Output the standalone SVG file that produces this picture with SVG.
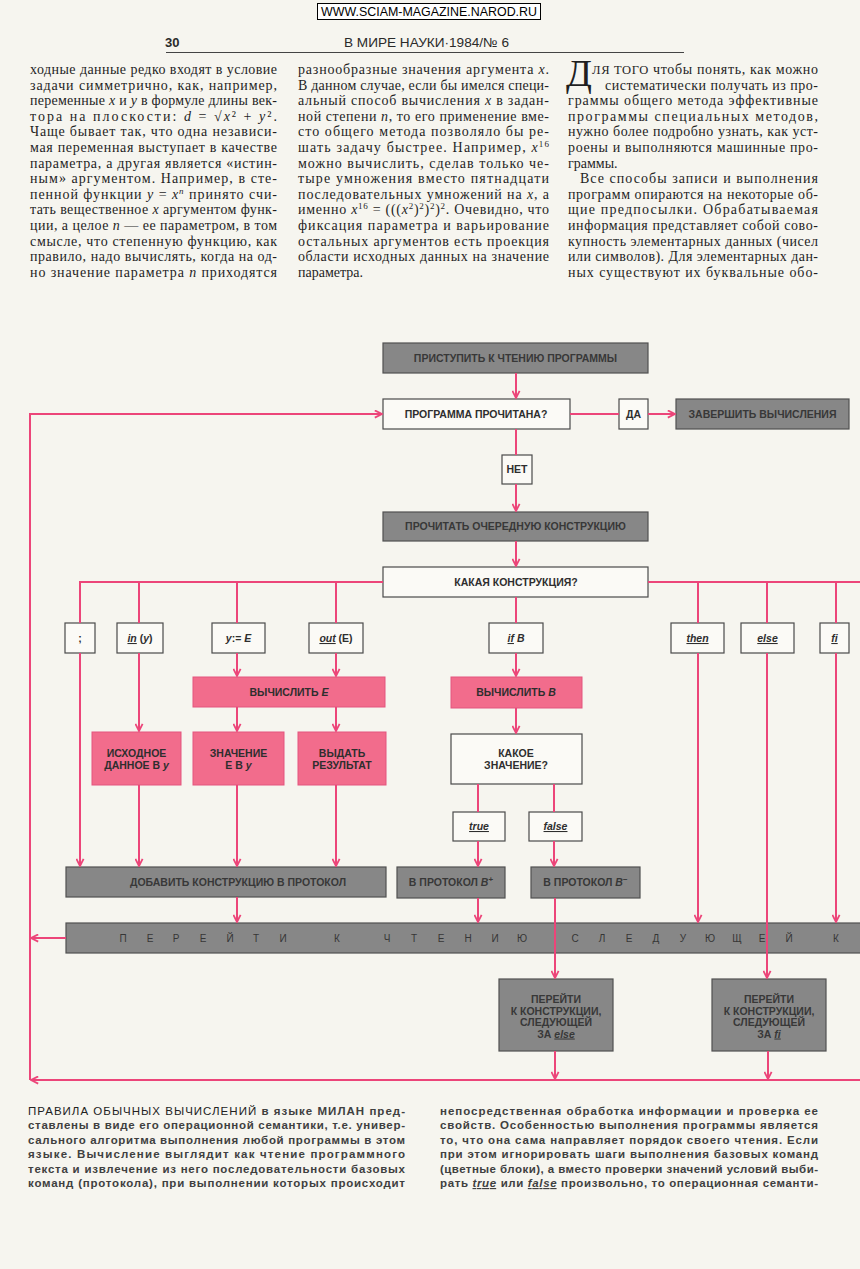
<svg xmlns="http://www.w3.org/2000/svg" width="860" height="1269" viewBox="0 0 860 1269">
<defs>
<style>
.sr{font-family:"Liberation Serif","Times New Roman",serif;font-size:14px;fill:#1f1f1f}
.cap{font-family:"Liberation Sans",Arial,sans-serif;font-size:11.5px;fill:#404040;font-weight:bold}
.bx{font-family:"Liberation Sans",Arial,sans-serif;font-size:10.5px;fill:#2e2e2e;text-anchor:middle;font-weight:bold}
.dk{fill:#383838}
.it{font-style:italic}
.ul{text-decoration:underline}
.w{fill:#fbfaf6;stroke:#4a4a4a;stroke-width:1.2}
.g{fill:#878787;stroke:#505050;stroke-width:1.2}
.p{fill:#f26c8c;stroke:#e3557e;stroke-width:1}
.c{fill:none;stroke:#ec4579;stroke-width:2}
.ar{marker-end:url(#a)}
.lt{font-family:"Liberation Sans",Arial,sans-serif;font-size:10px;fill:#363636;text-anchor:middle}
</style>
<marker id="a" viewBox="0 0 10 10" refX="9" refY="5" markerWidth="9" markerHeight="9" markerUnits="userSpaceOnUse" orient="auto"><path d="M1,1 L9,5 L1,9" fill="none" stroke="#ec4579" stroke-width="2"/></marker>
</defs>
<rect x="0" y="0" width="860" height="1269" fill="#f6f5ef"/>

<g id="watermark">
<rect x="317.5" y="3.5" width="223" height="16" fill="#ffffff" stroke="#000" stroke-width="1"/>
<text x="429" y="16" font-family="Liberation Sans,Arial,sans-serif" font-size="13" fill="#000" text-anchor="middle" textLength="216" lengthAdjust="spacingAndGlyphs">WWW.SCIAM-MAGAZINE.NAROD.RU</text>
</g>

<g id="header">
<text x="165" y="47" font-family="Liberation Sans,Arial,sans-serif" font-size="13" font-weight="bold" fill="#2a2a2a">30</text>
<text x="344" y="47" font-family="Liberation Sans,Arial,sans-serif" font-size="13" fill="#2a2a2a" textLength="165" lengthAdjust="spacingAndGlyphs">В МИРЕ НАУКИ·1984/№ 6</text>
<line x1="166" y1="52.5" x2="684" y2="52.5" stroke="#444" stroke-width="1"/>
</g>

<g id="column1" class="sr">
<text x="30" y="74" textLength="247" lengthAdjust="spacing">ходные данные редко входят в условие</text>
<text x="30" y="89.6" textLength="247" lengthAdjust="spacing">задачи симметрично, как, например,</text>
<text x="30" y="105.2" textLength="247" lengthAdjust="spacing">переменные <tspan class="it">x</tspan> и <tspan class="it">y</tspan> в формуле длины век-</text>
<text x="30" y="120.8" textLength="247" lengthAdjust="spacing">тора на плоскости: <tspan class="it">d</tspan> = √<tspan class="it">x</tspan>² + <tspan class="it">y</tspan>².</text>
<text x="30" y="136.4" textLength="247" lengthAdjust="spacing">Чаще бывает так, что одна независи-</text>
<text x="30" y="152" textLength="247" lengthAdjust="spacing">мая переменная выступает в качестве</text>
<text x="30" y="167.6" textLength="247" lengthAdjust="spacing">параметра, а другая является «истин-</text>
<text x="30" y="183.2" textLength="247" lengthAdjust="spacing">ным» аргументом. Например, в сте-</text>
<text x="30" y="198.8" textLength="247" lengthAdjust="spacing">пенной функции <tspan class="it">y</tspan> = <tspan class="it">x</tspan><tspan class="it" font-size="9" dy="-5">n</tspan><tspan dy="5"> принято счи-</tspan></text>
<text x="30" y="214.4" textLength="247" lengthAdjust="spacing">тать вещественное <tspan class="it">x</tspan> аргументом функ-</text>
<text x="30" y="230" textLength="247" lengthAdjust="spacing">ции, а целое <tspan class="it">n</tspan> — ее параметром, в том</text>
<text x="30" y="245.6" textLength="247" lengthAdjust="spacing">смысле, что степенную функцию, как</text>
<text x="30" y="261.2" textLength="247" lengthAdjust="spacing">правило, надо вычислять, когда на од-</text>
<text x="30" y="276.8" textLength="247" lengthAdjust="spacing">но значение параметра <tspan class="it">n</tspan> приходятся</text>
</g>

<g id="column2" class="sr">
<text x="298" y="74" textLength="251" lengthAdjust="spacing">разнообразные значения аргумента <tspan class="it">x</tspan>.</text>
<text x="298" y="89.6" textLength="251" lengthAdjust="spacing">В данном случае, если бы имелся специ-</text>
<text x="298" y="105.2" textLength="251" lengthAdjust="spacing">альный способ вычисления <tspan class="it">x</tspan> в задан-</text>
<text x="298" y="120.8" textLength="251" lengthAdjust="spacing">ной степени <tspan class="it">n</tspan>, то его применение вме-</text>
<text x="298" y="136.4" textLength="251" lengthAdjust="spacing">сто общего метода позволяло бы ре-</text>
<text x="298" y="152" textLength="251" lengthAdjust="spacing">шать задачу быстрее. Например, <tspan class="it">x</tspan><tspan font-size="9" dy="-5">16</tspan></text>
<text x="298" y="167.6" textLength="251" lengthAdjust="spacing">можно вычислить, сделав только че-</text>
<text x="298" y="183.2" textLength="251" lengthAdjust="spacing">тыре умножения вместо пятнадцати</text>
<text x="298" y="198.8" textLength="251" lengthAdjust="spacing">последовательных умножений на <tspan class="it">x</tspan>, а</text>
<text x="298" y="214.4" textLength="251" lengthAdjust="spacing">именно <tspan class="it">x</tspan><tspan font-size="9" dy="-5">16</tspan><tspan dy="5"> = (((</tspan><tspan class="it">x</tspan><tspan font-size="9" dy="-5">2</tspan><tspan dy="5">)</tspan><tspan font-size="9" dy="-5">2</tspan><tspan dy="5">)</tspan><tspan font-size="9" dy="-5">2</tspan><tspan dy="5">)</tspan><tspan font-size="9" dy="-5">2</tspan><tspan dy="5">. Очевидно, что</tspan></text>
<text x="298" y="230" textLength="251" lengthAdjust="spacing">фиксация параметра и варьирование</text>
<text x="298" y="245.6" textLength="251" lengthAdjust="spacing">остальных аргументов есть проекция</text>
<text x="298" y="261.2" textLength="251" lengthAdjust="spacing">области исходных данных на значение</text>
<text x="298" y="276.8">параметра.</text>
</g>

<g id="column3" class="sr">
<text x="566" y="86" font-size="38">Д</text>
<text x="592" y="74" textLength="226" lengthAdjust="spacing"><tspan font-size="12.5">ЛЯ ТОГО</tspan> чтобы понять, как можно</text>
<text x="605" y="89.6" textLength="213" lengthAdjust="spacing">систематически получать из про-</text>
<text x="568" y="105.2" textLength="250" lengthAdjust="spacing">граммы общего метода эффективные</text>
<text x="568" y="120.8" textLength="250" lengthAdjust="spacing">программы специальных методов,</text>
<text x="568" y="136.4" textLength="250" lengthAdjust="spacing">нужно более подробно узнать, как уст-</text>
<text x="568" y="152" textLength="250" lengthAdjust="spacing">роены и выполняются машинные про-</text>
<text x="568" y="167.6">граммы.</text>
<text x="580" y="183.2" textLength="238" lengthAdjust="spacing">Все способы записи и выполнения</text>
<text x="568" y="198.8" textLength="250" lengthAdjust="spacing">программ опираются на некоторые об-</text>
<text x="568" y="214.4" textLength="250" lengthAdjust="spacing">щие предпосылки. Обрабатываемая</text>
<text x="568" y="230" textLength="250" lengthAdjust="spacing">информация представляет собой сово-</text>
<text x="568" y="245.6" textLength="250" lengthAdjust="spacing">купность элементарных данных (чисел</text>
<text x="568" y="261.2" textLength="250" lengthAdjust="spacing">или символов). Для элементарных дан-</text>
<text x="568" y="276.8" textLength="250" lengthAdjust="spacing">ных существуют их буквальные обо-</text>
</g>

<g id="n-start"><rect class="g" x="383" y="343" width="265" height="30"/><text class="bx dk" x="515.5" y="362">ПРИСТУПИТЬ К ЧТЕНИЮ ПРОГРАММЫ</text></g>
<g id="n-read"><rect class="w" x="383" y="399" width="187" height="30"/><text class="bx" x="476" y="418">ПРОГРАММА ПРОЧИТАНА?</text></g>
<g id="n-yes"><rect class="w" x="619" y="399" width="29" height="30"/><text class="bx" x="633.5" y="418">ДА</text></g>
<g id="n-end"><rect class="g" x="676" y="399" width="173" height="30"/><text class="bx dk" x="762.5" y="418">ЗАВЕРШИТЬ ВЫЧИСЛЕНИЯ</text></g>
<g id="n-no"><rect class="w" x="502" y="455" width="30" height="29"/><text class="bx" x="517" y="473">НЕТ</text></g>
<g id="n-next"><rect class="g" x="383" y="512" width="265" height="29"/><text class="bx dk" x="515.5" y="530">ПРОЧИТАТЬ ОЧЕРЕДНУЮ КОНСТРУКЦИЮ</text></g>
<g id="n-which"><rect class="w" x="383" y="567" width="265" height="30"/><text class="bx" x="516" y="586">КАКАЯ КОНСТРУКЦИЯ?</text></g>

<g id="n-semi"><rect class="w" x="65" y="623" width="30" height="30"/><text class="bx" x="80" y="642">;</text></g>
<g id="n-in"><rect class="w" x="117" y="623" width="46" height="30"/><text class="bx" x="140" y="642"><tspan class="it ul">in</tspan> (<tspan class="it">y</tspan>)</text></g>
<g id="n-assign"><rect class="w" x="212" y="623" width="53" height="30"/><text class="bx" x="238.5" y="642"><tspan class="it">y</tspan>:= <tspan class="it">E</tspan></text></g>
<g id="n-out"><rect class="w" x="309" y="623" width="54" height="30"/><text class="bx" x="336" y="642"><tspan class="it ul">out</tspan> (E)</text></g>
<g id="n-if"><rect class="w" x="489" y="623" width="54" height="30"/><text class="bx" x="516" y="642"><tspan class="it ul">if</tspan> <tspan class="it">B</tspan></text></g>
<g id="n-then"><rect class="w" x="671" y="623" width="53" height="30"/><text class="bx it ul" x="697.5" y="642">then</text></g>
<g id="n-else"><rect class="w" x="741" y="623" width="53" height="30"/><text class="bx it ul" x="767.5" y="642">else</text></g>
<g id="n-fi"><rect class="w" x="820" y="623" width="29" height="30"/><text class="bx it ul" x="834.5" y="642">fi</text></g>

<g id="n-calcE"><rect class="p" x="193" y="677" width="192" height="30"/><text class="bx" x="289" y="696">ВЫЧИСЛИТЬ <tspan class="it">E</tspan></text></g>
<g id="n-input"><rect class="p" x="92" y="732" width="89" height="53"/><text class="bx" x="136.5" y="757">ИСХОДНОЕ</text><text class="bx" x="136.5" y="768.5">ДАННОЕ В <tspan class="it">y</tspan></text></g>
<g id="n-value"><rect class="p" x="193" y="732" width="91" height="53"/><text class="bx" x="238.5" y="757">ЗНАЧЕНИЕ</text><text class="bx" x="238.5" y="768.5">E В <tspan class="it">y</tspan></text></g>
<g id="n-output"><rect class="p" x="298" y="732" width="88" height="53"/><text class="bx" x="342" y="757">ВЫДАТЬ</text><text class="bx" x="342" y="768.5">РЕЗУЛЬТАТ</text></g>
<g id="n-add"><rect class="g" x="66" y="867" width="320" height="30"/><text class="bx dk" x="238" y="886">ДОБАВИТЬ КОНСТРУКЦИЮ В ПРОТОКОЛ</text></g>

<g id="n-calcB"><rect class="p" x="451" y="677" width="131" height="31"/><text class="bx" x="516" y="696">ВЫЧИСЛИТЬ <tspan class="it">B</tspan></text></g>
<g id="n-whichval"><rect class="w" x="451" y="734" width="131" height="50"/><text class="bx" x="516" y="757">КАКОЕ</text><text class="bx" x="516" y="768.5">ЗНАЧЕНИЕ?</text></g>
<g id="n-true"><rect class="w" x="453" y="812" width="52" height="29"/><text class="bx it ul" x="479" y="830">true</text></g>
<g id="n-false"><rect class="w" x="529" y="812" width="53" height="29"/><text class="bx it ul" x="555.5" y="830">false</text></g>
<g id="n-bplus"><rect class="g" x="397" y="867" width="108" height="31"/><text class="bx dk" x="451" y="886">В ПРОТОКОЛ <tspan class="it">B</tspan><tspan font-size="8" dy="-4">+</tspan></text></g>
<g id="n-bminus"><rect class="g" x="531" y="867" width="109" height="31"/><text class="bx dk" x="585.5" y="886">В ПРОТОКОЛ <tspan class="it">B</tspan><tspan font-size="8" dy="-4">−</tspan></text></g>

<g id="n-goto">
<rect class="g" x="66" y="923" width="800" height="30"/>
<text class="lt" x="123 150 176 203 230 256 283" y="942">ПЕРЕЙТИ</text>
<text class="lt" x="337" y="942">К</text>
<text class="lt" x="387 414 441 468 495 522" y="942">ЧТЕНИЮ</text>
<text class="lt" x="575 602 629 656 683 710 737 762 789" y="942">СЛЕДУЮЩЕЙ</text>
<text class="lt" x="836" y="942">К</text>
</g>

<g id="n-skipelse"><rect class="g" x="499" y="979" width="114" height="72"/>
<text class="bx dk" x="556" y="1003">ПЕРЕЙТИ</text><text class="bx dk" x="556" y="1014.5">К КОНСТРУКЦИИ,</text><text class="bx dk" x="556" y="1026">СЛЕДУЮЩЕЙ</text><text class="bx dk" x="556" y="1037.5">ЗА <tspan class="it ul">else</tspan></text></g>
<g id="n-skipfi"><rect class="g" x="712" y="979" width="114" height="72"/>
<text class="bx dk" x="769" y="1003">ПЕРЕЙТИ</text><text class="bx dk" x="769" y="1014.5">К КОНСТРУКЦИИ,</text><text class="bx dk" x="769" y="1026">СЛЕДУЮЩЕЙ</text><text class="bx dk" x="769" y="1037.5">ЗА <tspan class="it ul">fi</tspan></text></g>

<g id="connectors">
<path class="c ar" d="M30,1080 L30,414 L382,414"/>
<path class="c ar" d="M66,938 L31,938"/>
<path class="c ar" d="M860,1080 L31,1080"/>
<path class="c ar" d="M516,373 L516,398"/>
<path class="c" d="M516,429 L516,455"/>
<path class="c ar" d="M516,484 L516,511"/>
<path class="c ar" d="M516,541 L516,566"/>
<path class="c" d="M570,414 L619,414"/>
<path class="c ar" d="M648,414 L675,414"/>
<path class="c" d="M383,582 L80,582 L80,623 M139,582 L139,623 M237,582 L237,623 M336,582 L336,623"/>
<path class="c" d="M648,582 L860,582 M698,582 L698,623 M767,582 L767,623 M836,582 L836,623"/>
<path class="c" d="M516,597 L516,623"/>
<path class="c ar" d="M80,653 L80,866"/>
<path class="c ar" d="M139,653 L139,731"/>
<path class="c ar" d="M139,785 L139,866"/>
<path class="c ar" d="M237,653 L237,676"/>
<path class="c ar" d="M336,653 L336,676"/>
<path class="c ar" d="M237,707 L237,731"/>
<path class="c ar" d="M336,707 L336,731"/>
<path class="c ar" d="M237,785 L237,866"/>
<path class="c ar" d="M336,785 L336,866"/>
<path class="c ar" d="M237,897 L237,922"/>
<path class="c ar" d="M516,653 L516,676"/>
<path class="c ar" d="M516,708 L516,733"/>
<path class="c" d="M478,784 L478,812 M554,784 L554,812"/>
<path class="c ar" d="M478,841 L478,866"/>
<path class="c ar" d="M554,841 L554,866"/>
<path class="c ar" d="M478,898 L478,922"/>
<path class="c ar" d="M555,898 L555,978"/>
<path class="c ar" d="M698,653 L698,922"/>
<path class="c ar" d="M767,653 L767,978"/>
<path class="c ar" d="M836,653 L836,922"/>
<path class="c ar" d="M555,1051 L555,1079"/>
<path class="c ar" d="M768,1051 L768,1079"/>
</g>

<g id="caption" class="cap">
<text x="28" y="1115" textLength="377" lengthAdjust="spacing"><tspan font-weight="normal" fill="#222">ПРАВИЛА ОБЫЧНЫХ ВЫЧИСЛЕНИЙ</tspan> в языке МИЛАН пред-</text>
<text x="28" y="1129.4" textLength="377" lengthAdjust="spacing">ставлены в виде его операционной семантики, т.е. универ-</text>
<text x="28" y="1143.8" textLength="377" lengthAdjust="spacing">сального алгоритма выполнения любой программы в этом</text>
<text x="28" y="1158.2" textLength="377" lengthAdjust="spacing">языке. Вычисление выглядит как чтение программного</text>
<text x="28" y="1172.6" textLength="377" lengthAdjust="spacing">текста и извлечение из него последовательности базовых</text>
<text x="28" y="1187" textLength="377" lengthAdjust="spacing">команд (протокола), при выполнении которых происходит</text>
<text x="440" y="1115" textLength="378" lengthAdjust="spacing">непосредственная обработка информации и проверка ее</text>
<text x="440" y="1129.4" textLength="378" lengthAdjust="spacing">свойств. Особенностью выполнения программы является</text>
<text x="440" y="1143.8" textLength="378" lengthAdjust="spacing">то, что она сама направляет порядок своего чтения. Если</text>
<text x="440" y="1158.2" textLength="378" lengthAdjust="spacing">при этом игнорировать шаги выполнения базовых команд</text>
<text x="440" y="1172.6" textLength="378" lengthAdjust="spacing">(цветные блоки), а вместо проверки значений условий выби-</text>
<text x="440" y="1187" textLength="378" lengthAdjust="spacing">рать <tspan class="it ul">true</tspan> или <tspan class="it ul">false</tspan> произвольно, то операционная семанти-</text>
</g>
</svg>
